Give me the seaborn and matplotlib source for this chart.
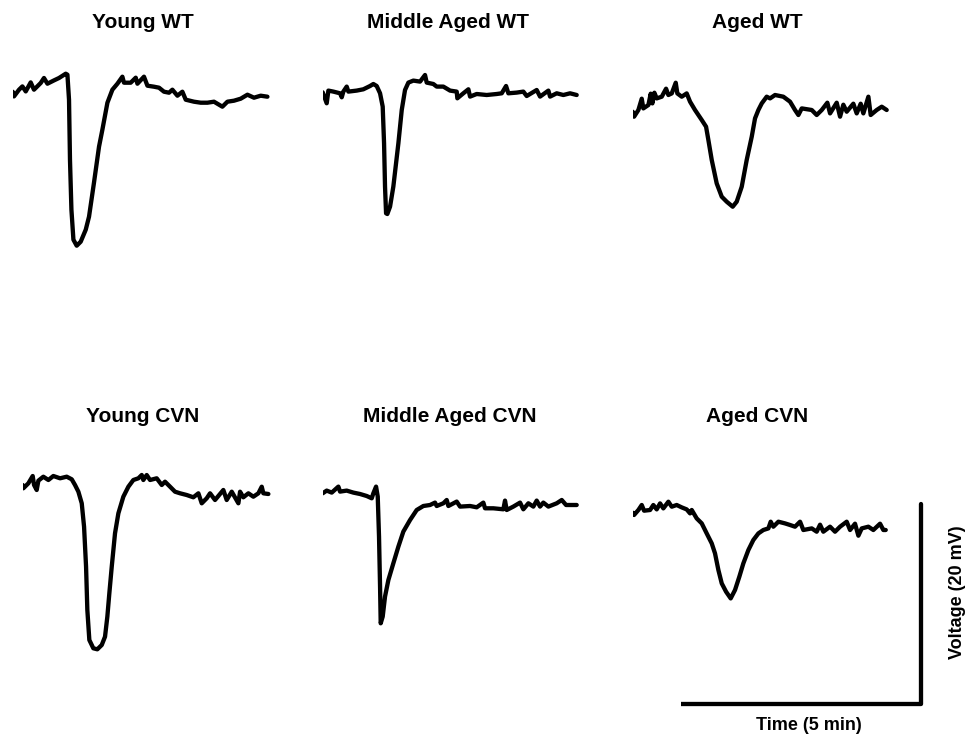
import numpy as np
import pandas as pd
import matplotlib
matplotlib.use("Agg")
import matplotlib.pyplot as plt
import seaborn as sns

# ---------------- data (time in s from trace start, voltage in mV from start) ----------------
titles = ["Young WT", "Middle Aged WT", "Aged WT",
          "Young CVN", "Middle Aged CVN", "Aged CVN"]

young_wt_t = [0, 1.6, 7.9, 12.1, 16.3, 22.5, 26.6, 35, 39.1, 43.4, 51.6, 57.9, 66.3, 68.4, 70.4, 71.6,
              73.4, 75.9, 80, 85, 91.3, 95.4, 101.6, 107.9, 112.1, 118.4, 124.6, 130.9, 137.1, 139.1,
              147.5, 153.8, 155.9, 164.1, 168.4, 176.6, 182.9, 189.1, 195.4, 199.6, 205.9, 212.1,
              216.3, 226.6, 235, 243.4, 251.6, 262.1, 268.4, 276.6, 285, 293.4, 301.6, 310, 318.4]
young_wt_v = [0, -0.47, 0.2, 0.53, 0.03, 0.93, 0.2, 0.87, 1.37, 0.8, 1.13, 1.37, 1.8, 1.7, -0.8, -6.8,
              -11.8, -14.8, -15.4, -15.0, -13.8, -12.5, -9.1, -5.5, -3.8, -1.1, 0.2, 0.8, 1.5, 0.9,
              0.9, 1.4, 0.8, 1.5, 0.6, 0.5, 0.4, 0.0, -0.1, 0.2, -0.4, 0.0,
              -0.8, -1.0, -1.1, -1.1, -1.0, -1.5, -1.0, -0.9, -0.7, -0.3, -0.6, -0.4, -0.5]

middle_wt_t = [0, 5.0, 7.1, 13.3, 21.7, 23.8, 25.8, 30, 32.1, 42.5, 50.8, 59.2, 63.3, 67.5, 71.7, 75,
               76.7, 77.9, 79.2, 80.8, 84.2, 88.3, 94.6, 98.8, 102.9, 107.1, 113.3, 121.7, 127.9, 130,
               138.3, 142.5, 150.8, 159.2, 167.5, 168.3, 175.8, 182.1, 184.2, 192.5, 205, 217.5,
               223.8, 229.2, 232.1, 242.5, 250.8, 255, 267.5, 271.7, 282.1, 284.2, 292.5, 300.8,
               309.2, 317.5]
middle_wt_v = [0, -1.1, 0.17, 0.07, -0.1, -0.5, 0.07, 0.57, 0.07, 0.17, 0.3, 0.63, 0.83, 0.63, -0.1, -1.43,
               -5.1, -9.43, -12.1, -12.17, -11.43, -9.43, -5.1, -1.77, 0.23, 0.97, 1.17, 1.07, 1.73, 0.97,
               0.83, 0.57, 0.57, 0.17, 0.07, -0.6, -0.1, 0.3, -0.43, -0.17, -0.27, -0.17,
               -0.1, 0.63, -0.1, -0.03, 0.07, -0.37, 0.23, -0.43, 0.17, -0.43, -0.1, -0.27,
               -0.1, -0.27]

aged_wt_t = [0, 1.7, 7.1, 11.3, 13.3, 19.6, 22.5, 24.6, 27.1, 30, 36.3, 41.7, 44.6, 48.8, 53.8, 55.8,
             61.3, 67.5, 71.7, 77.9, 86.3, 91.7, 94.6, 98.8, 105, 111.3, 117.5, 125, 130, 136.3, 142.5,
             148.8, 152.9, 157.1, 161.3, 167.5, 171.7, 177.9, 188.3, 196.7, 202.9, 207.1, 211.3,
             223.8, 230, 236.3, 243.3, 246.7, 255, 259.2, 263.3, 267.5, 275.8, 280, 285, 288.3,
             294.6, 297.5, 305, 311.3, 317.5]
aged_wt_v = [0, -0.5, 0.17, 1.3, 0.33, 0.67, 1.8, 0.83, 1.9, 1.33, 1.5, 2.3, 1.67, 1.83, 2.9, 1.83,
             1.5, 1.83, 1.0, 0.17, -0.83, -1.5, -2.83, -4.83, -7.17, -8.5, -9.0, -9.5, -9.0, -7.5, -4.83,
             -2.5, -0.67, 0.17, 0.83, 1.5, 1.33, 1.67, 1.5, 1.0, 0.17, -0.33, 0.33,
             0.17, -0.33, 0.17, 0.9, -0.17, 0.9, -0.5, 0.7, 0.0, 0.8, -0.17, 0.8, -0.17,
             1.5, -0.33, 0.17, 0.5, 0.17]

young_cvn_t = [0, 0.8, 7.1, 12.5, 14.2, 17.5, 19.6, 25.8, 32.1, 38.3, 46.7, 55, 61.3, 65.4, 69.6, 73.8,
               76.7, 79.2, 80.8, 83.3, 88.3, 93.3, 98.8, 102.9, 105.8, 108.3, 111.3, 115.4, 119.6,
               125.8, 132.1, 138.3, 144.6, 148.8, 150.8, 155, 159.2, 167.5, 173.8, 177.9, 184.2,
               190.4, 196.7, 205, 213.3, 219.6, 223.8, 230, 234.2, 240.4, 250.8, 255, 261.3, 269.6,
               271.7, 275.8, 282.1, 288.3, 294.6, 298.8, 300.8, 307.1]
young_cvn_v = [0, -0.33, 0.17, 0.9, 0, -0.5, 0.43, 0.83, 0.5, 0.9, 0.67, 0.83, 0.57, 0, -0.67, -1.83,
               -4.17, -8.17, -12.5, -15.5, -16.33, -16.43, -16.0, -15.17, -13.17, -10.83, -8.17, -4.83, -2.83,
               -1.17, -0.17, 0.5, 0.67, 1.0, 0.5, 1.0, 0.5, 0.67, 0, 0.33, -0.17,
               -0.67, -0.83, -1.0, -1.23, -0.83, -1.83, -1.33, -0.83, -1.5, -0.5, -1.5, -0.67, -1.83,
               -0.67, -1.23, -0.83, -1.17, -0.83, -0.17, -0.83, -0.9]

middle_cvn_t = [0, 5.0, 11.3, 19.6, 21.7, 30, 38.3, 46.7, 55, 61.3, 63.3, 66.7, 68.8, 70.4, 71.7, 72.5,
                75, 77.9, 82.1, 88.3, 94.6, 100.8, 109.2, 117.5, 125.8, 134.2, 140.4, 142.5, 150.8,
                155, 157.1, 167.5, 171.7, 184.2, 192.5, 200.8, 202.9, 213.3, 225.8, 227.9, 230,
                238.3, 246.7, 250.8, 257.1, 263.3, 267.5, 271.7, 275.8, 282.1, 292.5, 298.8, 304.2, 317.5]
middle_cvn_v = [0, 0.27, 0.07, 0.67, 0.17, 0.27, 0.07, -0.07, -0.27, -0.5, 0, 0.67, -0.33, -4.33, -9.33, -13.0,
                -12.33, -10.33, -8.67, -7.0, -5.33, -3.83, -2.67, -1.67, -1.27, -1.17, -0.93, -1.27, -1.0,
                -0.67, -1.27, -0.83, -1.33, -1.27, -1.4, -0.93, -1.5, -1.5, -1.6, -0.73, -1.67,
                -1.33, -0.93, -1.6, -1.0, -1.33, -0.73, -1.33, -0.93, -1.33, -1.0, -0.67, -1.17, -1.17]

aged_cvn_t = [0, 1.7, 7.1, 11.3, 14.2, 21.7, 25.8, 30, 34.2, 38.3, 44.6, 48.8, 55, 61.3, 67.5, 71.7,
              73.8, 80, 86.3, 92.5, 98.8, 102.9, 107.1, 111.3, 116.7, 122.5, 127.9, 133.3, 138.3,
              144.6, 150.8, 157.1, 163.3, 169.6, 172.5, 175.8, 182.1, 190.4, 196.7, 202.9, 209.2,
              213.3, 223.8, 230, 234.2, 238.3, 246.7, 252.9, 259.2, 267.5, 271.7, 277.9, 282.1,
              286.3, 294.6, 300.8, 309.2, 313.3, 316.3]
aged_cvn_v = [0, -0.23, 0.27, 0.77, 0.2, 0.27, 0.77, 0.33, 0.93, 0.43, 1.1, 0.6, 0.77, 0.53, 0.33, -0.07,
              0.27, -0.57, -1.07, -2.07, -3.07, -4.07, -5.73, -7.07, -7.9, -8.57, -7.73, -6.4, -5.07,
              -3.73, -2.73, -2.07, -1.73, -1.57, -0.9, -1.4, -0.9, -1.07, -1.23, -1.4, -0.9,
              -1.73, -1.57, -1.9, -1.2, -1.9, -1.4, -1.9, -1.4, -0.9, -1.73, -1.1, -2.3,
              -1.57, -1.4, -1.73, -1.1, -1.73, -1.73]

scale_time_s = 300   # 5 min
scale_volt_mv = 20   # 20 mV

traces = [(young_wt_t, young_wt_v), (middle_wt_t, middle_wt_v), (aged_wt_t, aged_wt_v),
          (young_cvn_t, young_cvn_v), (middle_cvn_t, middle_cvn_v), (aged_cvn_t, aged_cvn_v)]

# ---------------- layout (pixels) ----------------
W, H = 966, 735
sns.set_style("white")
plt.rcParams['font.family'] = ['Liberation Sans', 'DejaVu Sans']
plt.rcParams['text.color'] = 'black'
fig = plt.figure(figsize=(W / 100, H / 100), dpi=100)

origins = [(12.7, 91.7), (322.7, 92.3), (632.7, 111.7),
           (22.7, 485.0), (322.7, 493.3), (632.7, 512.7)]
title_pos = [(143, 28), (448, 28), (757, 28), (143, 421.5), (450, 421.5), (757, 421.5)]

PX_PER_S = 0.8
PX_PER_MV = 10.0
ax_w_px, ax_top_px, ax_bot_px = 280, 40, 180
LW = 3.1

for (t, v), (x0, y0), title, (tx, ty) in zip(traces, origins, titles, title_pos):
    left = x0 / W
    bottom = 1 - (y0 + ax_bot_px) / H
    ax = fig.add_axes([left, bottom, ax_w_px / W, (ax_top_px + ax_bot_px) / H])
    df = pd.DataFrame({"t": t, "v": v})
    sns.lineplot(data=df, x="t", y="v", ax=ax, color="black", lw=LW,
                 sort=False, estimator=None)
    ax.set_xlim(0, ax_w_px / PX_PER_S)
    ax.set_ylim(-ax_bot_px / PX_PER_MV, ax_top_px / PX_PER_MV)
    ax.axis("off")
    fig.text(tx / W, 1 - ty / H, title, ha="center", va="baseline",
             fontsize=15, fontweight="bold", color="black")

# scale bar
corner_x, corner_y = 920.5, 703.5
sb_left = corner_x - scale_time_s * PX_PER_S
sax = fig.add_axes([sb_left / W, 1 - (corner_y + 10) / H, 260 / W, 230 / H])
sax.set_xlim(0, 260 / PX_PER_S)
sax.set_ylim(-10 / PX_PER_MV, 220 / PX_PER_MV)
sb = pd.DataFrame({"t": [0, scale_time_s, scale_time_s], "v": [0, 0, scale_volt_mv]})
sns.lineplot(data=sb, x="t", y="v", ax=sax, color="black", lw=LW, sort=False, estimator=None)
sax.axis("off")

fig.text(809 / W, 1 - 730 / H, "Time (5 min)", ha="center", va="baseline",
         fontsize=13, fontweight="bold", color="black")
fig.text(957 / W, 1 - 592.5 / H, "Voltage (20 mV)", ha="center", va="center",
         rotation=90, fontsize=13, fontweight="bold", color="black")

fig.savefig("out.png", dpi=100, facecolor="white")
